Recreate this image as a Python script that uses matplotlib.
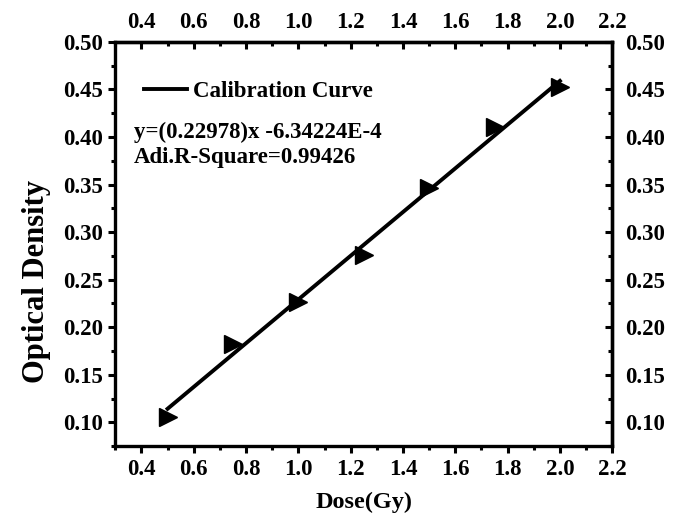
"""
Калибровочная кривая: оптическая плотность от дозы
"""

import matplotlib.pyplot as plt
from matplotlib.ticker import FixedLocator

dose = [0.5, 0.75, 1.0, 1.25, 1.5, 1.75, 2.0]
optical_density = [0.106, 0.182, 0.226, 0.276, 0.346, 0.410, 0.453]
slope = 0.22978
intercept = -6.34224e-4
fit_text = "y=(0.22978)x -6.34224E-4\nAdi.R-Square=0.99426"
x_ticks = [0.4, 0.6, 0.8, 1.0, 1.2, 1.4, 1.6, 1.8, 2.0, 2.2]
x_minor = [0.3, 0.5, 0.7, 0.9, 1.1, 1.3, 1.5, 1.7, 1.9, 2.1]
y_ticks = [0.10, 0.15, 0.20, 0.25, 0.30, 0.35, 0.40, 0.45, 0.50]
y_minor = [0.075, 0.125, 0.175, 0.225, 0.275, 0.325, 0.375, 0.425, 0.475]

plt.rcParams["font.family"] = ["Liberation Serif", "DejaVu Serif"]
plt.rcParams["font.weight"] = "bold"

fig = plt.figure(figsize=(6.78, 5.23), dpi=100)
ax = fig.add_axes([0.170, 0.147, 0.733, 0.773])

fit_y = [slope * x + intercept for x in dose]
ax.plot(dose, fit_y, color="black", lw=2.8, label="Calibration Curve", zorder=2)
ax.plot(dose, optical_density, ">", color="black", ms=12.5, zorder=3)

ax.set_xlim(0.3, 2.2)
ax.set_ylim(0.075, 0.5)

top = ax.secondary_xaxis("top")
right = ax.secondary_yaxis("right")
for a in (ax, top):
    a.xaxis.set_major_locator(FixedLocator(x_ticks))
    a.xaxis.set_minor_locator(FixedLocator(x_minor))
    a.xaxis.set_major_formatter(lambda v, p: f"{v:.1f}")
for a in (ax, right):
    a.yaxis.set_major_locator(FixedLocator(y_ticks))
    a.yaxis.set_minor_locator(FixedLocator(y_minor))
    a.yaxis.set_major_formatter(lambda v, p: f"{v:.2f}")

for s in ax.spines.values():
    s.set_linewidth(2.4)
ax.tick_params(which="major", direction="out", length=5, width=2.2, labelsize=16.5)
ax.tick_params(which="minor", direction="out", length=3, width=2.2)
ax.tick_params(axis="x", pad=4.5)
ax.tick_params(axis="y", pad=3.5)

for sec in (top, right):
    sec.spines[:].set_linewidth(2.4)
    sec.tick_params(which="major", direction="in", length=5, width=2.2, labelsize=16.5)
    sec.tick_params(which="minor", direction="in", length=3, width=2.2)
top.tick_params(pad=6.5)
right.tick_params(pad=9)

for a in (ax, top, right):
    for lab in a.get_xticklabels() + a.get_yticklabels():
        lab.set_fontweight("bold")

ax.set_xlabel("Dose(Gy)", fontsize=17.5, fontweight="bold", labelpad=8)
ax.set_ylabel("Optical Density", fontsize=22, fontweight="bold")
ax.yaxis.set_label_coords(-0.129, 0.406)

ax.legend(loc="center left", bbox_to_anchor=(0.016, 0.876), frameon=False,
          handlelength=1.9, handletextpad=0.25, prop={"size": 16.5, "weight": "bold"})
ax.text(0.038, 0.745, fit_text, transform=ax.transAxes, fontsize=16.5,
        fontweight="bold", va="center", ha="left", linespacing=1.2)

plt.savefig("out.png", dpi=100)
